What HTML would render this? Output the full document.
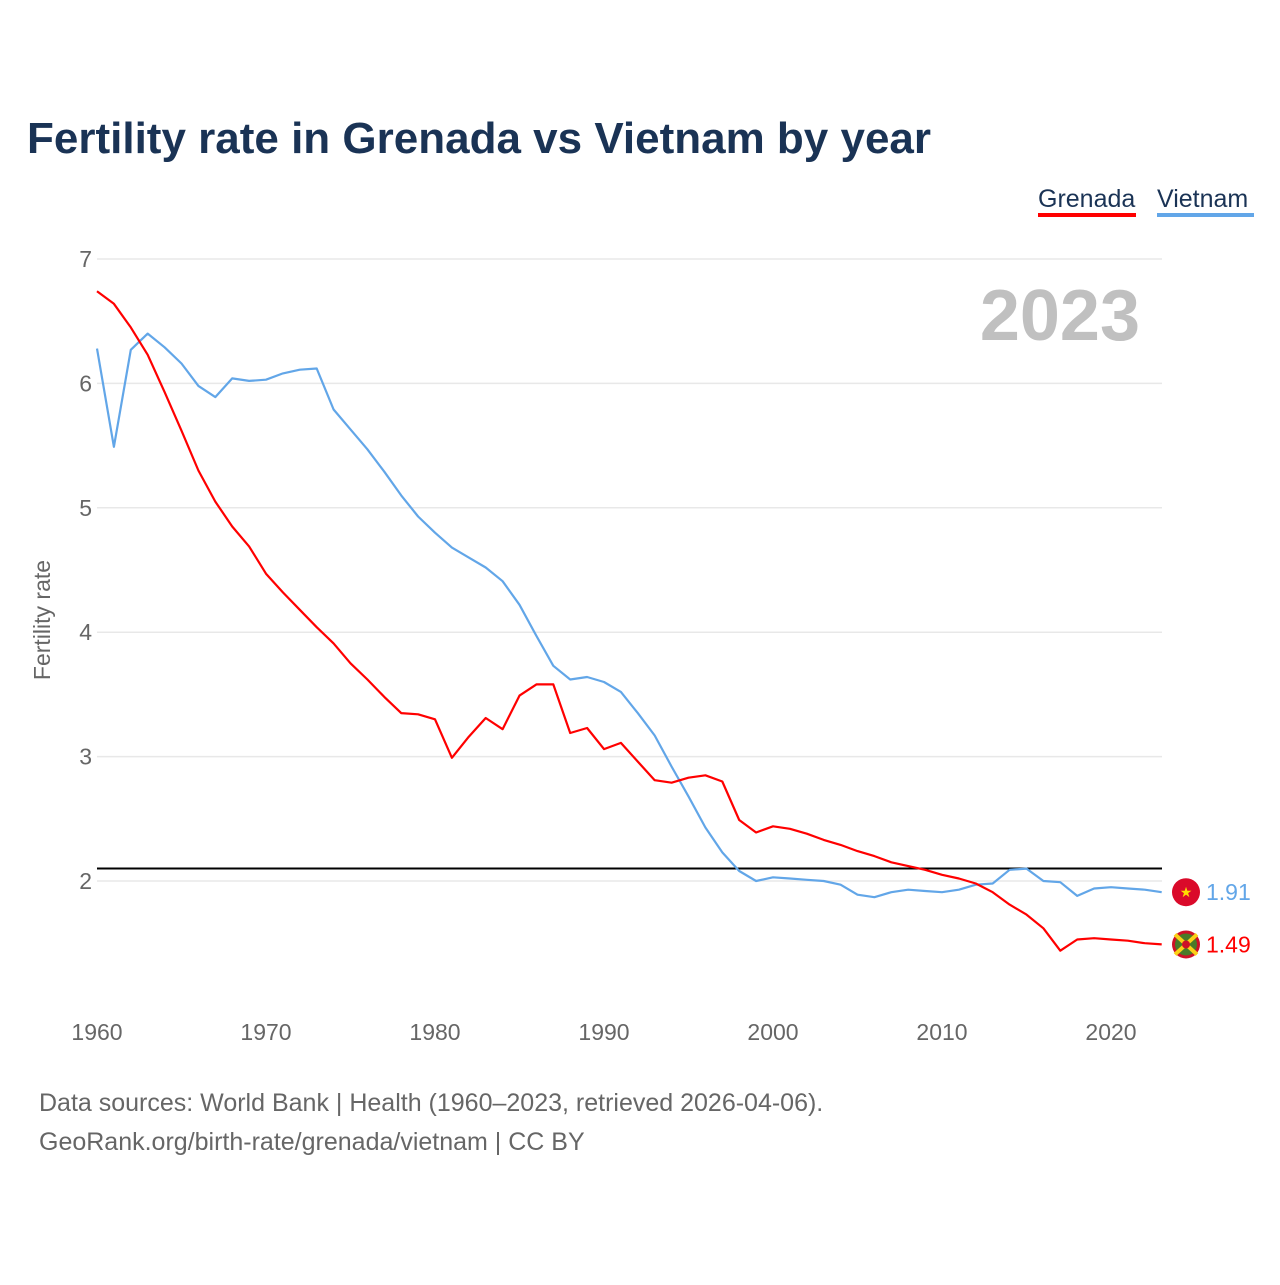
<!DOCTYPE html>
<html><head><meta charset="utf-8"><style>
body{margin:0;width:1280px;height:1280px;background:#fff;font-family:"Liberation Sans",sans-serif;overflow:hidden}
svg text{font-family:"Liberation Sans",sans-serif}
</style></head><body>
<svg id="chart" width="1280" height="1280" xmlns="http://www.w3.org/2000/svg">
<text x="27" y="153" font-size="44" font-weight="bold" fill="#1a3355">Fertility rate in Grenada vs Vietnam by year</text>
<g>
<g><text x="1038" y="207" font-size="25" fill="#1a3355">Grenada</text><rect x="1038" y="213" width="98" height="4" fill="#ff0000"/></g>
<g><text x="1157" y="207" font-size="25" fill="#1a3355">Vietnam</text><rect x="1157" y="213" width="97" height="4" fill="#62a6e8"/></g>
</g>
<text x="1140" y="340" font-size="72" font-weight="bold" fill="#c0c0c0" text-anchor="end">2023</text>
<text transform="translate(50,620) rotate(-90)" font-size="23" fill="#666" text-anchor="middle">Fertility rate</text>
<g id="grid"></g>
<g id="xticks"></g>
<g id="series"></g>
<text x="39" y="1111" font-size="25" fill="#666">Data sources: World Bank | Health (1960–2023, retrieved 2026-04-06).</text>
<text x="39" y="1150" font-size="25" fill="#666">GeoRank.org/birth-rate/grenada/vietnam | CC BY</text>
</svg>
<script>
const years=[];for(let y=1960;y<=2023;y++)years.push(y);
const grenada=[6.74,6.64,6.45,6.23,5.93,5.62,5.30,5.05,4.85,4.69,4.47,4.32,4.18,4.04,3.91,3.75,3.62,3.48,3.35,3.34,3.30,2.99,3.16,3.31,3.22,3.49,3.58,3.58,3.19,3.23,3.06,3.11,2.96,2.81,2.79,2.83,2.85,2.80,2.49,2.39,2.44,2.42,2.38,2.33,2.29,2.24,2.20,2.15,2.12,2.09,2.05,2.02,1.98,1.91,1.81,1.73,1.62,1.44,1.53,1.54,1.53,1.52,1.50,1.49];
const vietnam=[6.28,5.49,6.27,6.40,6.29,6.16,5.98,5.89,6.04,6.02,6.03,6.08,6.11,6.12,5.79,5.63,5.47,5.29,5.10,4.93,4.80,4.68,4.60,4.52,4.41,4.22,3.97,3.73,3.62,3.64,3.60,3.52,3.35,3.17,2.92,2.68,2.43,2.23,2.08,2.00,2.03,2.02,2.01,2.00,1.97,1.89,1.87,1.91,1.93,1.92,1.91,1.93,1.97,1.98,2.09,2.10,2.00,1.99,1.88,1.94,1.95,1.94,1.93,1.91];
const yTicks=[2,3,4,5,6,7];
const xTicks=[1960,1970,1980,1990,2000,2010,2020];
const replacement=2.1;
const NS="http://www.w3.org/2000/svg";
const X=v=>97+(v-1960)*(1014/60);
const Y=v=>259+(7-v)*124.4;
function mk(tag,attrs,parent,txt){const e=document.createElementNS(NS,tag);for(const k in attrs)e.setAttribute(k,attrs[k]);if(txt!==undefined)e.textContent=txt;parent.appendChild(e);return e;}
const grid=document.getElementById('grid');
yTicks.forEach(t=>{
 const l=mk('line',{x1:97,x2:1162,y1:Y(t),y2:Y(t),stroke:'#e8e8e8','stroke-width':1.5},grid);
 
 
 const tx=mk('text',{x:92,y:Y(t)+8,'font-size':23,fill:'#666','text-anchor':'end'},grid,String(t));
 
 
});
const xg=document.getElementById('xticks');
xTicks.forEach(t=>{
 const tx=mk('text',{x:X(t),y:1040,'font-size':23,fill:'#666','text-anchor':'middle'},xg,String(t));
 
 
});
const sg=document.getElementById('series');
const ref=mk('line',{x1:97,x2:1162,y1:Y(replacement),y2:Y(replacement),stroke:'#000','stroke-width':2},sg);


function path(vals,color,name){
 const d=vals.map((v,i)=>(i?'L':'M')+X(years[i]).toFixed(1)+','+Y(v).toFixed(1)).join('');
 const p=mk('path',{d:d,fill:'none',stroke:color,'stroke-width':2.2,'stroke-linejoin':'round'},sg);
 
 
}
path(vietnam,'#62a6e8','vietnam-line');
path(grenada,'#ff0000','grenada-line');
// end markers
const lv=vietnam[vietnam.length-1], lg=grenada[grenada.length-1];
const fv=mk('g',{},sg);


mk('circle',{cx:1186,cy:Y(lv),r:14,fill:'#da0a2a'},fv);
mk('text',{x:1186,y:Y(lv)+5,'font-size':14,fill:'#ffde00','text-anchor':'middle'},fv,'★');
const fg=mk('g',{},sg);


mk('circle',{cx:1186,cy:Y(lg),r:14,fill:'#ce1126'},fg);
mk('circle',{cx:1186,cy:Y(lg),r:11,fill:'#4a7a28'},fg);
mk('path',{d:`M1175,${Y(lg)-10}L1197,${Y(lg)+10}M1197,${Y(lg)-10}L1175,${Y(lg)+10}`,stroke:'#fcd116','stroke-width':4},fg);
mk('circle',{cx:1186,cy:Y(lg),r:4,fill:'#ce1126'},fg);
const tv=mk('text',{x:1206,y:Y(lv)+8,'font-size':23,fill:'#62a6e8'},sg,lv.toFixed(2));


const tg=mk('text',{x:1206,y:Y(lg)+8,'font-size':23,fill:'#ff0000'},sg,lg.toFixed(2));


</script>
</body></html>
